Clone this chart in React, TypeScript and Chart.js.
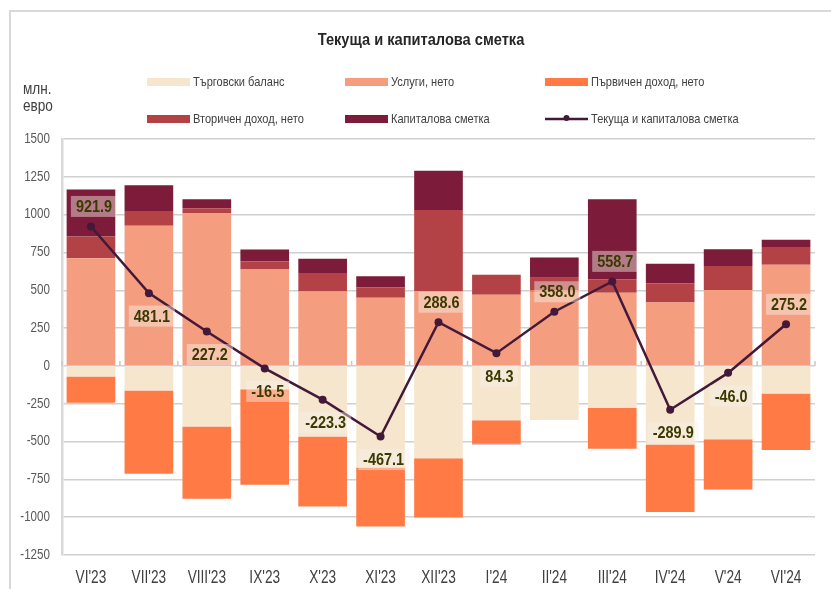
import React, { useEffect, useRef } from "react";
import { Chart, registerables } from "chart.js";

Chart.register(...registerables);

const FONT = "'Liberation Sans Narrow', 'Arial Narrow', 'Liberation Sans', Arial, sans-serif";

const title = "Текуща и капиталова сметка";
const unitLines = ["млн.", "евро"];

const categories = ["VI'23", "VII'23", "VIII'23", "IX'23", "X'23", "XI'23", "XII'23", "I'24", "II'24", "III'24", "IV'24", "V'24", "VI'24"];

const tradeBalance = [-70, -162, -401, -154, -467, -671, -611, -360, -357, -277, -520, -485, -182];
const services = [711, 927, 1011, 638, 492, 450, 496, 470, 483, 483, 419, 501, 668];
const primaryIncome = [-174, -551, -477, -632, -462, -390, -391, -155, 15, -270, -445, -332, -374];
const secondaryIncome = [145, 97, 31, 53, 123, 70, 535, 132, 84, 90, 128, 159, 118];
const capitalAccount = [310, 171, 60, 79, 93, 73, 259, -3, 135, 529, 128, 112, 48];
const currentAndCapital = [921.9, 481.1, 227.2, -16.5, -223.3, -467.1, 288.6, 84.3, 358.0, 558.7, -289.9, -46.0, 275.2];
const labelSide = ["above", "below", "below", "below", "below", "below", "above", "below", "above", "above", "below", "below", "above"];

const seriesNames = ["Търговски баланс", "Услуги, нето", "Първичен доход, нето", "Вторичен доход, нето", "Капиталова сметка", "Текуща и капиталова сметка"];
const seriesColors = ["#F6E6CE", "#F59E7F", "#FF7A45", "#B34246", "#7C1B3A", "#43193A"];

const yMin = -1250;
const yMax = 1500;
const yStep = 250;

function narrowText(ctx: any, text: string, x: number, y: number, font: string, sx: number, align: string, color: string) {
  ctx.save();
  ctx.font = font;
  ctx.fillStyle = color;
  ctx.textAlign = align;
  ctx.textBaseline = "middle";
  ctx.translate(x, y);
  ctx.scale(sx, 1);
  ctx.fillText(text, 0, 0);
  ctx.restore();
}

export default function App() {
  const ref = useRef<HTMLCanvasElement>(null);

  useEffect(() => {
    const canvas = ref.current;
    if (!canvas) return;

    const decor = {
      id: "decor",
      beforeDraw(chart: any) {
        const ctx = chart.ctx;
        ctx.save();
        ctx.fillStyle = "#ffffff";
        ctx.fillRect(0, 0, chart.width, chart.height);
        ctx.strokeStyle = "#d9d9d9";
        ctx.lineWidth = 2;
        ctx.beginPath();
        ctx.moveTo(10, chart.height);
        ctx.lineTo(10, 11);
        ctx.lineTo(chart.width, 11);
        ctx.stroke();
        ctx.restore();

        narrowText(ctx, title, 421, 40, `bold 17px ${FONT}`, 0.86, "center", "#262626");
        narrowText(ctx, unitLines[0], 23, 90, `16px ${FONT}`, 0.85, "left", "#404040");
        narrowText(ctx, unitLines[1], 23, 107, `16px ${FONT}`, 0.85, "left", "#404040");

        const cols = [147, 345, 545];
        const rows = [82, 119];
        seriesNames.forEach((name, i) => {
          const cx = cols[i % 3];
          const cy = rows[Math.floor(i / 3)];
          ctx.save();
          if (i < 5) {
            ctx.fillStyle = seriesColors[i];
            ctx.fillRect(cx, cy - 4, 43, 8);
          } else {
            ctx.strokeStyle = seriesColors[i];
            ctx.lineWidth = 2.5;
            ctx.beginPath();
            ctx.moveTo(cx, cy);
            ctx.lineTo(cx + 43, cy);
            ctx.stroke();
            ctx.fillStyle = seriesColors[i];
            ctx.beginPath();
            ctx.arc(cx + 21.5, cy - 1, 3, 0, Math.PI * 2);
            ctx.fill();
          }
          ctx.restore();
          narrowText(ctx, name, cx + 46, cy, `13px ${FONT}`, 0.85, "left", "#404040");
        });
      },
      beforeDatasetsDraw(chart: any) {
        const ctx = chart.ctx;
        const xs = chart.scales.x;
        const ys = chart.scales.y;
        const y0 = ys.getPixelForValue(0);
        const half = (xs.getPixelForValue(1) - xs.getPixelForValue(0)) / 2;
        ctx.save();
        ctx.strokeStyle = "#c8c8c8";
        ctx.lineWidth = 1.5;
        for (let i = 0; i <= categories.length; i++) {
          const x = i < categories.length ? xs.getPixelForValue(i) - half : xs.getPixelForValue(i - 1) + half;
          ctx.beginPath();
          ctx.moveTo(x, y0 - 5);
          ctx.lineTo(x, y0);
          ctx.stroke();
        }
        ctx.restore();
      },
      afterDatasetsDraw(chart: any) {
        const ctx = chart.ctx;
        const meta = chart.getDatasetMeta(5);
        const font = `bold 17px ${FONT}`;
        const sx = 0.85;
        currentAndCapital.forEach((v, i) => {
          const pt = meta.data[i];
          const text = v.toFixed(1);
          const cx = pt.x + 3;
          const cy = pt.y + (labelSide[i] === "above" ? -20 : 23);
          ctx.save();
          ctx.font = font;
          const w = ctx.measureText(text).width * sx + 10;
          const h = 21;
          ctx.fillStyle = "rgba(246,240,232,0.45)";
          ctx.fillRect(cx - w / 2, cy - h / 2, w, h);
          ctx.restore();
          narrowText(ctx, text, cx, cy + 1, font, sx, "center", "#3a3a00");
        });

        const ys = chart.scales.y;
        ys.ticks.forEach((t: any) => {
          narrowText(ctx, String(t.value), 50, ys.getPixelForValue(t.value), `14px ${FONT}`, 0.83, "right", "#595959");
        });
        const xs = chart.scales.x;
        categories.forEach((c, i) => {
          narrowText(ctx, c, xs.getPixelForValue(i), 578, `18px ${FONT}`, 0.76, "center", "#404040");
        });
      },
    };

    const barData = [tradeBalance, services, primaryIncome, secondaryIncome, capitalAccount];
    const datasets: any[] = barData.map((d, i) => ({
      type: "bar",
      label: seriesNames[i],
      data: d,
      backgroundColor: seriesColors[i],
      borderWidth: 0,
      stack: "bars",
      order: 1,
      barPercentage: 0.84,
      categoryPercentage: 1,
    }));
    datasets.push({
      type: "line",
      label: seriesNames[5],
      data: currentAndCapital,
      borderColor: seriesColors[5],
      backgroundColor: seriesColors[5],
      borderWidth: 2.5,
      pointRadius: 4,
      pointBackgroundColor: seriesColors[5],
      pointBorderWidth: 0,
      stack: "line",
      order: 0,
      tension: 0,
    });

    const chart = new Chart(canvas, {
      type: "bar",
      data: { labels: categories, datasets },
      plugins: [decor],
      options: {
        responsive: false,
        animation: false,
        devicePixelRatio: 1,
        layout: { padding: { top: 139, right: 16, left: 0, bottom: 0 } },
        plugins: {
          legend: { display: false },
          title: { display: false },
          tooltip: { enabled: false },
        },
        scales: {
          x: {
            stacked: true,
            grid: { display: false, drawTicks: false },
            border: { display: false },
            ticks: { display: false },
            afterFit: (s: any) => { s.height = 34; },
          },
          y: {
            stacked: true,
            min: yMin,
            max: yMax,
            ticks: { stepSize: yStep, display: false },
            grid: { color: "#d0d0d0", lineWidth: 1.5, drawTicks: false },
            border: { color: "#d9d9d9", width: 2.5 },
            afterFit: (s: any) => { s.width = 62; },
          },
        },
      } as any,
    });

    return () => chart.destroy();
  }, []);

  return (
    <div style={{ position: "absolute", left: 0, top: 0, width: 831, height: 589 }}>
      <canvas ref={ref} width={831} height={589} style={{ width: 831, height: 589, display: "block" }} />
    </div>
  );
}
